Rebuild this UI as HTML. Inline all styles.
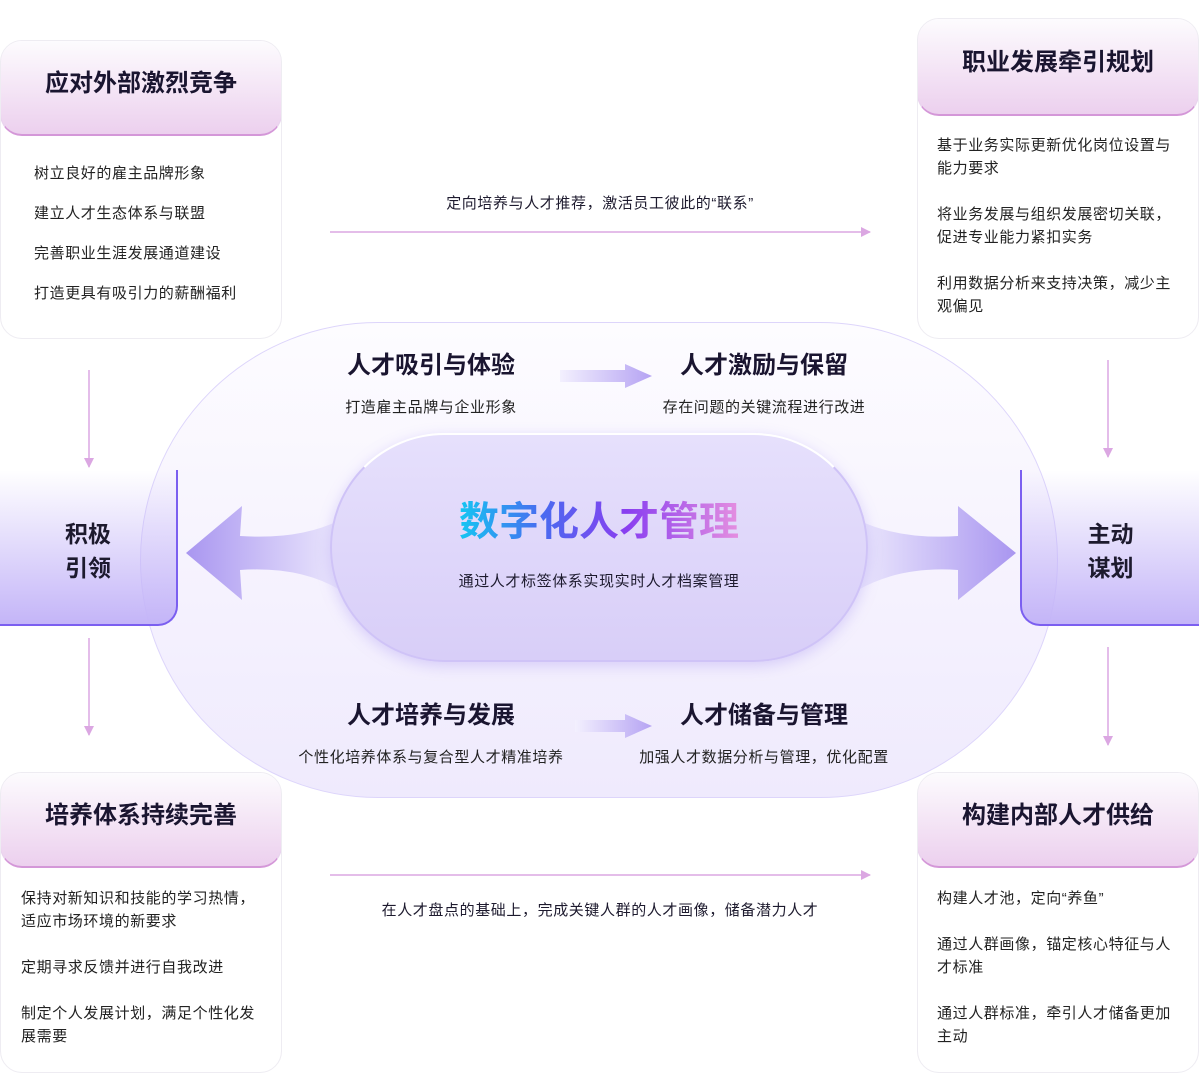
<!DOCTYPE html>
<html><head><meta charset="utf-8"><style>
*{margin:0;padding:0;box-sizing:border-box}
body{width:1199px;height:1073px;background:#fff;position:relative;overflow:hidden;font-family:"Liberation Sans","Noto Sans CJK SC",sans-serif;color:#1d1a2e}
.abs{position:absolute}
.card{position:absolute;background:#fff;border:1.5px solid #eeecf2;border-radius:22px;overflow:hidden}
.hd{position:absolute;left:-1px;right:-1px;top:-1px;border-radius:22px;background:linear-gradient(#fdfcfe,#ecd0ee);border-bottom:2px solid #d497d8;border-left:1px solid #e9d4ee;border-right:1px solid #e9d4ee;display:flex;align-items:center;justify-content:center;font-size:24px;font-weight:bold;color:#1a1530;padding-bottom:14px}
.t{position:absolute;font-size:15px;line-height:23px;color:#222;letter-spacing:0.6px}
.big{position:absolute;left:140px;top:322px;width:918px;height:476px;border-radius:238px/238px;background:linear-gradient(#fdfcff,#efeafd);border:1.5px solid #ddd5fb}
.inner{position:absolute;left:330px;top:433px;width:538px;height:229px;border-radius:115px;background:linear-gradient(#e6e0fc,#d8cef8);border:2px solid #cfc3f7;border-top-color:#fff;box-shadow:0 4px 14px rgba(160,140,240,.35)}
.side{position:absolute;top:470px;width:178px;height:156px;background:linear-gradient(rgba(255,255,255,0),#c4b5f8);border-bottom:2px solid #7b5ff0;display:flex;align-items:center;justify-content:center;font-size:23px;font-weight:bold;line-height:34px;text-align:center;padding-top:8px}
.sub{position:absolute;font-size:24px;font-weight:bold;color:#1a1530;text-align:center;width:300px}
.sd{position:absolute;font-size:15px;text-align:center;width:320px;color:#222;letter-spacing:0.6px}
</style></head><body>
<div class="big"></div>
<svg class="abs" style="left:0;top:0" width="1199" height="1073">
<defs>
<linearGradient id="la" x1="1" x2="0"><stop offset="0" stop-color="#ece8fd"/><stop offset="1" stop-color="#a996f0"/></linearGradient>
<linearGradient id="ra" x1="0" x2="1"><stop offset="0" stop-color="#ece8fd"/><stop offset="1" stop-color="#a996f0"/></linearGradient>
<linearGradient id="sa" x1="0" x2="1"><stop offset="0" stop-color="#f3f0fe"/><stop offset="1" stop-color="#b5a3f3"/></linearGradient>
<marker id="m" markerWidth="10" markerHeight="10" refX="9" refY="5" orient="auto" markerUnits="userSpaceOnUse"><path d="M0,0 L10,5 L0,10Z" fill="#dba7e2"/></marker>
</defs>
<path d="M340,520 Q300,540 240,536 L242,506 L186,553 L242,600 L240,570 Q300,566 340,590Z" fill="url(#la)"/>
<path d="M858,520 Q900,540 958,536 L958,506 L1016,553 L958,600 L958,570 Q900,566 858,590Z" fill="url(#ra)"/>
<path d="M560,370 L625,370 L625,364 L652,376 L625,388 L625,382 L560,382Z" fill="url(#sa)"/>
<path d="M575,720 L625,720 L625,714 L652,726 L625,738 L625,732 L575,732Z" fill="url(#sa)"/>
<g stroke="#dba7e2" stroke-width="1.5">
<line x1="89" y1="370" x2="89" y2="467" marker-end="url(#m)"/>
<line x1="89" y1="638" x2="89" y2="735" marker-end="url(#m)"/>
<line x1="1108" y1="360" x2="1108" y2="457" marker-end="url(#m)"/>
<line x1="1108" y1="647" x2="1108" y2="745" marker-end="url(#m)"/>
<line x1="330" y1="232" x2="870" y2="232" marker-end="url(#m)"/>
<line x1="330" y1="875" x2="870" y2="875" marker-end="url(#m)"/>
</g>
</svg>
<div class="inner"></div>
<div class="abs" style="left:330px;top:495px;width:538px;text-align:center;font-size:40px;font-weight:bold;line-height:54px"><span style="background:linear-gradient(90deg,#14c6f2,#4a6af0 30%,#8a3ef0 60%,#e58fe0);-webkit-background-clip:text;background-clip:text;color:transparent">数字化人才管理</span></div>
<div class="abs" style="left:330px;top:570px;width:538px;text-align:center;font-size:15px;letter-spacing:0.6px">通过人才标签体系实现实时人才档案管理</div>

<div class="side" style="left:0;border-right:2px solid #7b5ff0;border-radius:0 0 20px 0">积极<br>引领</div>
<div class="side" style="left:1020px;width:179px;border-left:2px solid #7b5ff0;border-radius:0 0 0 20px">主动<br>谋划</div>

<div class="sub" style="left:281px;top:345px">人才吸引与体验</div>
<div class="sub" style="left:614px;top:345px">人才激励与保留</div>
<div class="sd" style="left:271px;top:396px">打造雇主品牌与企业形象</div>
<div class="sd" style="left:604px;top:396px">存在问题的关键流程进行改进</div>
<div class="sub" style="left:281px;top:695px">人才培养与发展</div>
<div class="sub" style="left:614px;top:695px">人才储备与管理</div>
<div class="sd" style="left:221px;top:746px;width:420px">个性化培养体系与复合型人才精准培养</div>
<div class="sd" style="left:554px;top:746px;width:420px">加强人才数据分析与管理，优化配置</div>

<div class="abs" style="left:330px;top:192px;width:540px;text-align:center;font-size:15px;letter-spacing:0.6px">定向培养与人才推荐，激活员工彼此的“联系”</div>
<div class="abs" style="left:300px;top:899px;width:600px;text-align:center;font-size:15px;letter-spacing:0.6px">在人才盘点的基础上，完成关键人群的人才画像，储备潜力人才</div>

<div class="card" style="left:0;top:40px;width:282px;height:299px">
<div class="hd" style="height:96px">应对外部激烈竞争</div>
<div class="t" style="left:33px;top:121px">树立良好的雇主品牌形象</div>
<div class="t" style="left:33px;top:161px">建立人才生态体系与联盟</div>
<div class="t" style="left:33px;top:201px">完善职业生涯发展通道建设</div>
<div class="t" style="left:33px;top:241px">打造更具有吸引力的薪酬福利</div>
</div>
<div class="card" style="left:917px;top:18px;width:282px;height:321px">
<div class="hd" style="height:98px">职业发展牵引规划</div>
<div class="t" style="left:19px;top:115px;width:245px">基于业务实际更新优化岗位设置与能力要求</div>
<div class="t" style="left:19px;top:184px;width:245px">将业务发展与组织发展密切关联，促进专业能力紧扣实务</div>
<div class="t" style="left:19px;top:253px;width:245px">利用数据分析来支持决策，减少主观偏见</div>
</div>
<div class="card" style="left:0;top:772px;width:282px;height:301px">
<div class="hd" style="height:96px">培养体系持续完善</div>
<div class="t" style="left:20px;top:114px;width:245px">保持对新知识和技能的学习热情，适应市场环境的新要求</div>
<div class="t" style="left:20px;top:183px;width:245px">定期寻求反馈并进行自我改进</div>
<div class="t" style="left:20px;top:229px;width:245px">制定个人发展计划，满足个性化发展需要</div>
</div>
<div class="card" style="left:917px;top:772px;width:282px;height:301px">
<div class="hd" style="height:96px">构建内部人才供给</div>
<div class="t" style="left:19px;top:114px;width:245px">构建人才池，定向“养鱼”</div>
<div class="t" style="left:19px;top:160px;width:245px">通过人群画像，锚定核心特征与人才标准</div>
<div class="t" style="left:19px;top:229px;width:245px">通过人群标准，牵引人才储备更加主动</div>
</div>
</body></html>
